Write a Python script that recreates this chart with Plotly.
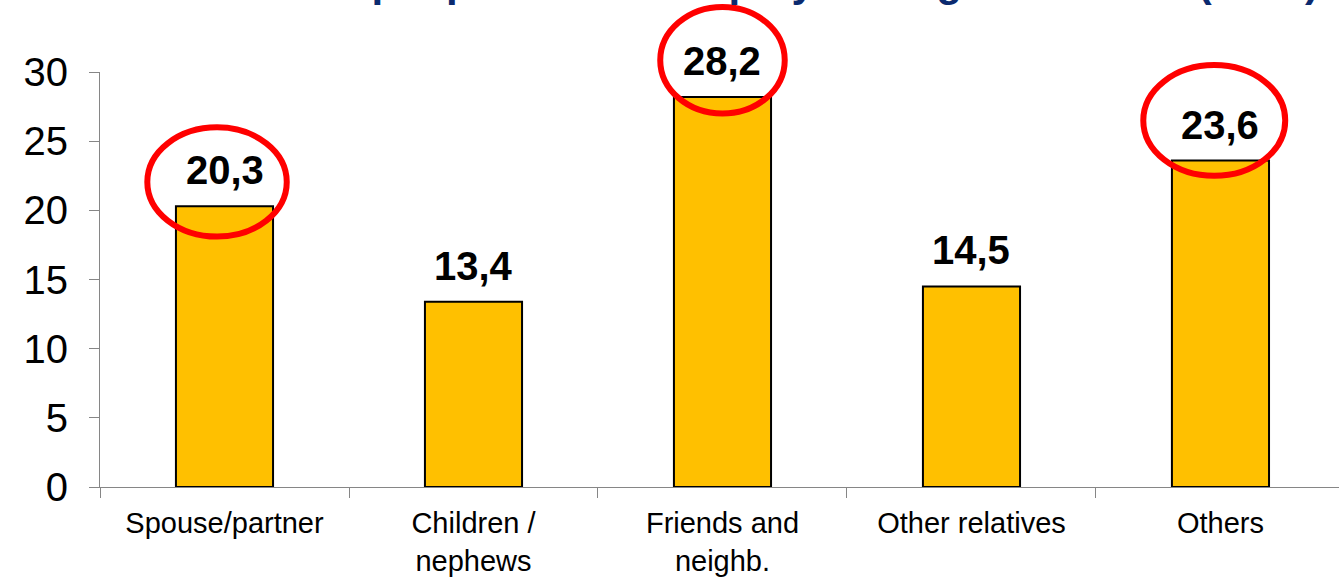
import plotly.graph_objects as go

# ---- data ----
categories = ["Spouse/partner", "Children /<br>nephews", "Friends and<br>neighb.",
              "Other relatives", "Others"]
values = [20.3, 13.4, 28.2, 14.5, 23.6]
highlighted = [0, 2, 4]          # bars whose labels are circled
y_ticks = [0, 5, 10, 15, 20, 25, 30]
title_text = "Where older people ask for help by main giver of care (2010)"

# ---- styling ----
YMAX = 30
FONT = "Arial, Liberation Sans, Helvetica, sans-serif"
# ellipse geometry relative to (bar index, bar value): dx0, dx1, dy0, dy1
ELLIPSE_GEOM = {0: (-0.31, 0.25, -2.2, 5.7),
                2: (-0.25, 0.25, -1.2, 6.5),
                4: (-0.31, 0.26, -1.1, 6.9)}

fig = go.Figure()
fig.add_trace(go.Bar(
    x=categories, y=values, width=0.39,
    marker=dict(color="#FFC000", line=dict(color="black", width=2)),
    hoverinfo="skip",
))

# value labels
for c, v in zip(categories, values):
    fig.add_annotation(x=c, y=v, xref="x", yref="y",
                       text="<b>" + f"{v:.1f}".replace(".", ",") + "</b>",
                       showarrow=False, yanchor="middle", yshift=36,
                       font=dict(family=FONT, size=40, color="black"))

# red ellipses around highlighted labels
for i in highlighted:
    v = values[i]
    dx0, dx1, dy0, dy1 = ELLIPSE_GEOM[i]
    fig.add_shape(type="circle", xref="x", yref="paper",
                  x0=i + dx0, x1=i + dx1,
                  y0=(v + dy0) / YMAX, y1=(v + dy1) / YMAX,
                  line=dict(color="#FF0000", width=6), fillcolor="rgba(0,0,0,0)", layer="above")

# title, mostly above the visible area (only descenders show, as in the reference)
fig.add_annotation(xref="paper", yref="paper", x=0.012, y=1.156, xanchor="left", yanchor="bottom",
                   text="<b>" + title_text + "</b>", showarrow=False,
                   font=dict(family=FONT, size=42, color="#0B2A6F"))

fig.update_layout(
    width=1339, height=579,
    margin=dict(l=100, r=0, t=72, b=92),
    paper_bgcolor="white", plot_bgcolor="white",
    showlegend=False,
    xaxis=dict(type="category", range=[-0.5, 4.476], showline=True, linecolor="#868686", linewidth=1,
               ticks="outside", ticklen=10, tickcolor="#868686", tickson="boundaries",
               ticklabelstandoff=10,
               tickfont=dict(family=FONT, size=29, color="black"), showgrid=False, zeroline=False),
    yaxis=dict(range=[0, YMAX], tickvals=y_ticks, showline=True, linecolor="#868686", linewidth=1,
               ticks="outside", ticklen=10, tickcolor="#868686", ticklabelstandoff=13,
               tickfont=dict(family=FONT, size=40, color="black"), showgrid=False, zeroline=False),
)

fig.write_html("out.html", config={"displayModeBar": False},
               post_script="document.body.style.margin='0';")
